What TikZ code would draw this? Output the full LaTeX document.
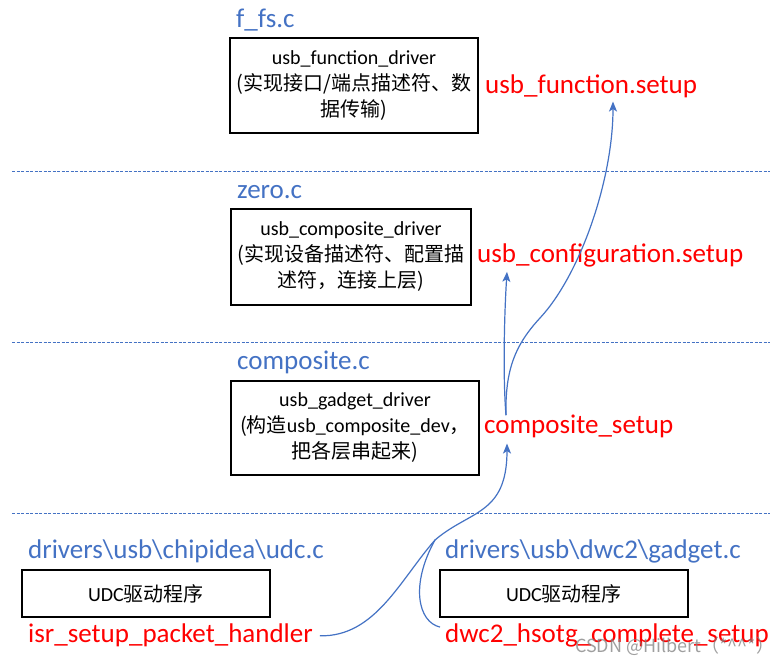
\documentclass[tikz,border=0pt]{standalone}
\usepackage{fontspec}
\setmainfont{Carlito}
\newfontfamily\cjk{Noto Sans CJK SC}
\newfontfamily\wmfont{Noto Sans CJK SC}
\usetikzlibrary{arrows.meta,calc}
\definecolor{lblblue}{HTML}{4472C4}
\definecolor{lnblue}{HTML}{4472C4}
\tikzset{
  lbl/.style={inner sep=0pt, anchor=base west, font=\fontsize{27}{32}\selectfont},
  filelbl/.style={lbl, text=lblblue},
  funclbl/.style={lbl, text=red},
  drvbox/.style={draw=black, line width=1.3pt, inner sep=0pt, align=center, font=\fontsize{20}{26}\selectfont},
  sepline/.style={lnblue, line width=1pt, dash pattern=on 3pt off 1.5pt},
  flowline/.style={lnblue, line width=1.2pt},
  flow/.style={flowline, -{Stealth[length=10pt,width=8pt,inset=2.5pt]}}
}
\begin{document}
\begin{tikzpicture}[x=1pt,y=-1pt]
\useasboundingbox (0,0) rectangle (784,664);
\fill[white] (0,0) rectangle (784,664);
% separators
\draw[sepline] (12,171.5) -- (770,171.5);
\draw[sepline] (12,342.5) -- (770,342.5);
\draw[sepline] (12,513.5) -- (770,513.5);
% file labels
\node[filelbl] (ffs) at (236,27) {f\_fs.c};
\node[filelbl] (zero) at (237,198) {zero.c};
\node[filelbl] (comp) at (237,369) {composite.c};
\node[filelbl] (ci) at (28,558) {drivers\textbackslash usb\textbackslash chipidea\textbackslash udc.c};
\node[filelbl] (dw) at (445,558) {drivers\textbackslash usb\textbackslash dwc2\textbackslash gadget.c};
% boxes
\node[drvbox, minimum width=248pt, minimum height=95pt] (b1) at (354,85.5)
  {usb\_function\_driver\\{\cjk (实现接口/端点描述符、数}\\{\cjk 据传输)}};
\node[drvbox, minimum width=240pt, minimum height=96pt] (b2) at (351,257)
  {usb\_composite\_driver\\{\cjk (实现设备描述符、配置描}\\{\cjk 述符，连接上层)}};
\node[drvbox, minimum width=248pt, minimum height=94pt] (b3) at (355,428)
  {usb\_gadget\_driver\\{\cjk (构造}usb\_composite\_dev{\cjk ，}\\{\cjk 把各层串起来)}};
\node[drvbox, minimum width=248pt, minimum height=47pt] (u1) at (146,593.5) {UDC{\cjk 驱动程序}};
\node[drvbox, minimum width=248pt, minimum height=47pt] (u2) at (564,593.5) {UDC{\cjk 驱动程序}};
% function labels
\node[funclbl] (ufs) at (485,93) {usb\_function.setup};
\node[funclbl] (ucs) at (477,262) {usb\_configuration.setup};
\node[funclbl] (cs) at (484,433) {composite\_setup};
\node[funclbl] (isr) at (28,642) {isr\_setup\_packet\_handler};
\node[funclbl] (dwc) at (445,642) {dwc2\_hsotg\_complete\_setup};
% watermark
\node[inner sep=0pt, anchor=base west, text=gray, opacity=0.75, font=\wmfont\fontsize{18}{20}\selectfont] (wm) at (575,652) {CSDN @Hilbert（*\textasciicircum\textasciicircum*）};
% connectors
\coordinate (m) at (435,540);
\coordinate (s) at (540,318);
\draw[flow] ($(isr.east)+(7,1)$) .. controls (375,637) and (400,580) .. (m)
  .. controls (470,510) and (507,515) .. ($(cs.south west)+(23,6)$);
\draw[flowline] ($(dwc.north west)+(-5,4)$) .. controls (418,622) and (410,585) .. (m);
\draw[flow] ($(cs.north west)+(22,1)$) .. controls (503,380) and (504,320) .. ($(ucs.south west)+(30,5)$);
\draw[flow] ($(cs.north west)+(22,1)$) .. controls (505,370) and (515,345) .. (s)
  .. controls (580,275) and (613,180) .. ($(ufs.south west)+(128,4)$);
\end{tikzpicture}
\end{document}
